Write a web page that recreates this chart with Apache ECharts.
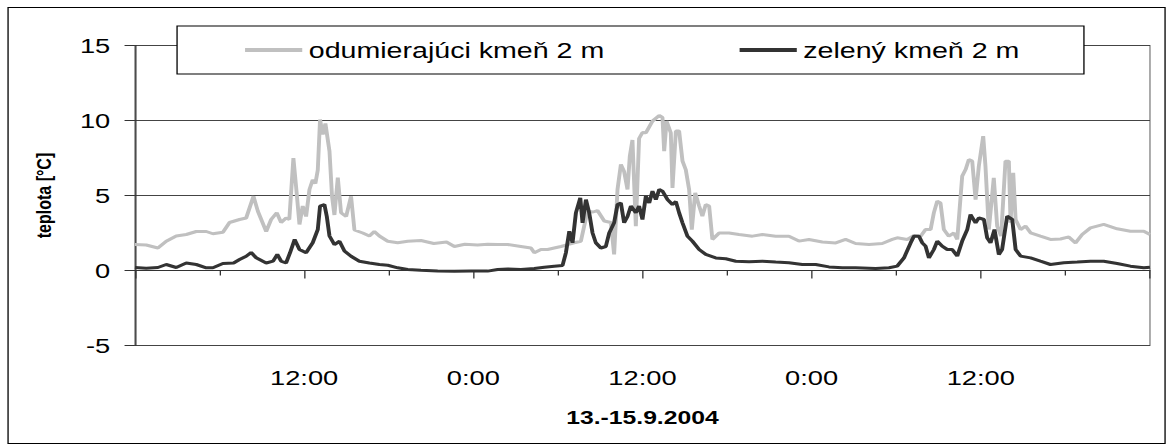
<!DOCTYPE html>
<html>
<head>
<meta charset="utf-8">
<script src="https://cdn.jsdelivr.net/npm/echarts@6/dist/echarts.min.js"></script>
<style>
    html, body { margin: 0; padding: 0; background: #fff; overflow: hidden; }
    /* the source picture is stretched sideways, so the chart is drawn narrower and widened */
    #chart { width: 901px; height: 448px; transform: scaleX(1.3); transform-origin: 0 0; }
</style>
</head>
<body>
<div id="chart"></div>
<script>
var seriesNames = ['odumierajúci kmeň 2 m', 'zelený kmeň 2 m'];
var xTickLabels = ['', '12:00', '0:00', '12:00', '0:00', '12:00', ''];

// hours since 13.9. 0:00
var deadHours = [0, 0.8, 1.63, 2.22, 2.93, 3.64, 4.35, 5.06, 5.53, 6.24, 6.71, 7.42, 7.89, 8.41, 8.72, 9.31, 9.66, 10.06, 10.37, 10.72, 10.95,
    11.24, 11.43, 11.67, 11.9, 12.14, 12.38, 12.61, 12.8, 12.97, 13.13, 13.32, 13.51, 13.8, 13.98, 14.15, 14.39, 14.62, 14.98, 15.33, 15.57,
    16.16, 16.63, 16.98, 17.34, 17.93, 18.64, 19.35, 20.29, 21.2, 22.1, 22.66, 23.4, 24.3, 25.02, 25.73, 26.44, 27.38, 28.09, 28.33, 28.8,
    29.27, 29.74, 30.22, 30.7, 31.16, 31.63, 32.1, 32.5, 32.81, 33.29, 33.76, 33.99, 34.23, 34.47, 34.7, 34.94, 35.1, 35.29, 35.53, 35.76,
    36.0, 36.24, 36.71, 37.19, 37.42, 37.54, 37.71, 38.01, 38.13, 38.37, 38.6, 38.84, 39.07, 39.31, 39.5, 39.74, 40.02, 40.25, 40.49, 40.73,
    40.96, 41.44, 42.14, 42.85, 43.8, 44.51, 45.45, 46.39, 47.1, 47.81, 48.76, 49.71, 50.41, 51.12, 52.07, 53.01, 53.72, 54.07, 54.78, 55.26,
    55.73, 56.08, 56.44, 56.67, 56.91, 57.14, 57.38, 57.73, 58.09, 58.33, 58.68, 58.92, 59.15, 59.39, 59.63, 59.86, 60.17, 60.33, 60.57, 60.92,
    61.16, 61.44, 61.75, 61.99, 62.11, 62.3, 62.47, 62.82, 63.17, 63.53, 64.23, 64.94, 65.65, 66.24, 66.72, 67.19, 67.78, 68.72, 69.67, 70.61,
    71.56, 72];
var deadTemps = [1.73, 1.7, 1.5, 1.95, 2.3, 2.4, 2.6, 2.6, 2.45, 2.55, 3.2, 3.4, 3.5, 4.95, 3.95, 2.6, 3.4, 3.85, 3.2, 3.5, 3.4,
    7.5, 5.6, 3.07, 4.3, 3.6, 5.4, 6.05, 5.8, 6.7, 10.07, 9.07, 9.8, 7.95, 4.95, 3.7, 6.2, 3.85, 3.6, 4.95, 2.7,
    2.5, 2.3, 2.6, 2.3, 1.95, 1.85, 1.95, 2.0, 1.8, 1.9, 1.6, 1.75, 1.7, 1.75, 1.73, 1.73, 1.6, 1.5, 1.18, 1.4,
    1.4, 1.5, 1.6, 1.73, 1.85, 1.95, 3.95, 3.9, 4.0, 3.3, 3.2, 1.07, 5.4, 7.07, 6.6, 5.4, 7.6, 8.7, 2.95, 8.8,
    9.2, 9.18, 9.96, 10.33, 10.2, 7.96, 9.96, 9.18, 5.5, 9.3, 9.3, 7.3, 6.73, 5.4, 2.73, 5.18, 4.3, 3.62, 4.4, 4.3,
    2.07, 2.5, 2.5, 2.4, 2.29, 2.4, 2.29, 2.29, 1.96, 2.07, 1.9, 1.84, 2.07, 1.8, 1.73, 1.8, 2.07, 2.18, 2.07, 2.33,
    2.29, 2.73, 2.73, 3.85, 4.62, 4.5, 2.73, 2.29, 2.5, 2.07, 6.29, 6.73, 7.4, 7.3, 4.73, 6.96, 8.96, 6.96, 2.73, 6.18,
    2.96, 2.29, 7.29, 7.29, 3.18, 6.51, 3.4, 2.73, 2.96, 2.51, 2.29, 2.07, 2.1, 2.24, 1.84, 2.4, 2.84, 3.07, 2.78, 2.62,
    2.62, 2.4];

var greenHours = [0, 0.8, 1.63, 2.22, 2.93, 3.64, 4.35, 5.06, 5.53, 6.24, 7.0, 7.42, 7.89, 8.24, 8.6, 9.31, 9.8, 10.1, 10.37, 10.72,
    11.0, 11.33, 11.67, 12.14, 12.61, 12.97, 13.13, 13.44, 13.61, 13.8, 14.15, 14.51, 14.86, 15.33, 15.92, 16.63, 17.34, 17.93, 18.64, 19.35,
    20.29, 21.47, 22.66, 23.84, 25.02, 25.73, 26.44, 27.38, 28.33, 29.04, 29.74, 30.33, 30.57, 30.81, 31.04, 31.28, 31.59, 31.75, 31.99, 32.22,
    32.46, 32.69, 33.05, 33.4, 33.64, 33.99, 34.23, 34.47, 34.7, 34.94, 35.18, 35.53, 35.76, 36.0, 36.24, 36.48, 36.71, 36.95, 37.19, 37.42,
    37.78, 38.13, 38.37, 38.6, 38.84, 39.19, 39.54, 40.02, 40.49, 41.2, 41.91, 42.62, 43.56, 44.51, 45.45, 46.39, 47.34, 48.29, 49.23, 50.18,
    51.12, 52.54, 53.49, 54.07, 54.55, 55.02, 55.26, 55.61, 55.85, 56.08, 56.32, 56.67, 56.91, 57.26, 57.62, 57.97, 58.33, 58.68, 59.04, 59.27,
    59.63, 59.86, 60.22, 60.45, 60.69, 60.97, 61.28, 61.51, 61.87, 62.23, 62.47, 62.82, 63.53, 64.23, 64.94, 65.89, 66.84, 67.78, 68.72, 69.67,
    70.61, 71.56, 72];
var greenTemps = [0.2, 0.15, 0.2, 0.4, 0.2, 0.5, 0.4, 0.18, 0.18, 0.47, 0.5, 0.73, 0.95, 1.2, 0.85, 0.5, 0.62, 1.07, 0.62, 0.5,
    1.18, 2.07, 1.4, 1.18, 1.85, 2.73, 4.3, 4.4, 3.6, 2.3, 1.73, 1.95, 1.3, 0.95, 0.62, 0.5, 0.4, 0.35, 0.18, 0.07,
    0.02, -0.04, -0.05, -0.04, -0.04, 0.07, 0.1, 0.07, 0.13, 0.22, 0.29, 0.33, 1.18, 2.62, 1.85, 3.85, 4.84, 3.18, 4.73, 3.85,
    2.5, 1.85, 1.5, 1.6, 2.5, 3.18, 4.4, 4.5, 3.18, 3.6, 4.3, 3.85, 4.3, 3.4, 4.95, 4.5, 5.29, 4.73, 5.4, 5.29,
    4.73, 4.4, 4.6, 3.85, 3.18, 2.29, 1.96, 1.4, 1.07, 0.84, 0.78, 0.62, 0.58, 0.62, 0.56, 0.51, 0.4, 0.4, 0.24, 0.18,
    0.18, 0.13, 0.18, 0.29, 0.84, 1.84, 2.29, 2.29, 1.84, 1.62, 0.84, 1.4, 1.96, 1.62, 1.4, 1.4, 0.96, 1.96, 2.73, 3.73,
    3.18, 3.51, 3.4, 2.18, 1.84, 2.73, 1.07, 1.4, 3.62, 3.4, 1.4, 0.96, 0.84, 0.62, 0.4, 0.51, 0.56, 0.62, 0.62, 0.47,
    0.29, 0.18, 0.22];

function pairs(hours, temps) {
    return hours.map(function (h, i) {
        return [h, temps[i]];
    });
}

var chart = echarts.init(document.getElementById('chart'), null, { renderer: 'svg' });
var font = 'Liberation Sans, Arial, sans-serif';
var option = {
    animation: false,
    textStyle: { fontFamily: font },
    grid: {
        left: 103.8, right: 16.4, top: 45.5, bottom: 102.5,
        show: true, borderColor: '#808080', borderWidth: 1
    },
    graphic: [
        {
            type: 'rect', z: 0, silent: true,
            shape: { x: 6.2, y: 7.5, width: 890, height: 436 },
            style: { fill: null, stroke: '#000', lineWidth: 1 }
        },
        {
            type: 'rect', z: 10, silent: true,
            shape: { x: 136.2, y: 26, width: 697.6, height: 48 },
            style: { fill: '#fff', stroke: '#000', lineWidth: 1 }
        }
    ],
    legend: {
        z: 20,
        data: seriesNames,
        left: 188.5, top: 39, padding: 0,
        icon: 'rect', itemWidth: 44, itemHeight: 4, itemGap: 104,
        textStyle: { fontSize: 22, color: '#000', fontFamily: font }
    },
    xAxis: {
        type: 'value', min: 0, max: 72, interval: 12,
        name: '13.-15.9.2004', nameLocation: 'middle', nameGap: 63,
        nameTextStyle: { fontWeight: 'bold', fontSize: 19, color: '#000', fontFamily: font },
        axisLine: { lineStyle: { color: '#333', width: 1 } },
        axisTick: { length: 8, lineStyle: { color: '#333' } },
        minorTick: { show: true, splitNumber: 2, length: 5, lineStyle: { color: '#333' } },
        axisLabel: {
            fontSize: 21, color: '#000', margin: 22,
            showMinLabel: true, showMaxLabel: true,
            formatter: function (v) {
                return xTickLabels[Math.round(v / 12)];
            }
        },
        splitLine: { show: false }
    },
    yAxis: {
        type: 'value', min: -5, max: 15, interval: 5,
        name: 'teplota [°C]', nameLocation: 'middle', nameGap: 62, nameRotate: 90,
        nameTextStyle: { fontWeight: 'bold', fontSize: 16, color: '#000', fontFamily: font },
        axisLine: { show: true, lineStyle: { color: '#333', width: 1 } },
        axisTick: { show: true, length: 8, lineStyle: { color: '#333' } },
        axisLabel: { fontSize: 21, color: '#000', margin: 19 },
        splitLine: { show: true, lineStyle: { color: '#444', width: 1 } }
    },
    series: [
        {
            name: seriesNames[0],
            type: 'line',
            data: pairs(deadHours, deadTemps),
            showSymbol: false,
            color: '#c0c0c0',
            lineStyle: { color: '#c0c0c0', width: 3 }
        },
        {
            name: seriesNames[1],
            type: 'line',
            data: pairs(greenHours, greenTemps),
            showSymbol: false,
            color: '#333333',
            lineStyle: { color: '#333333', width: 3 }
        }
    ]
};
chart.setOption(option);
</script>
</body>
</html>
